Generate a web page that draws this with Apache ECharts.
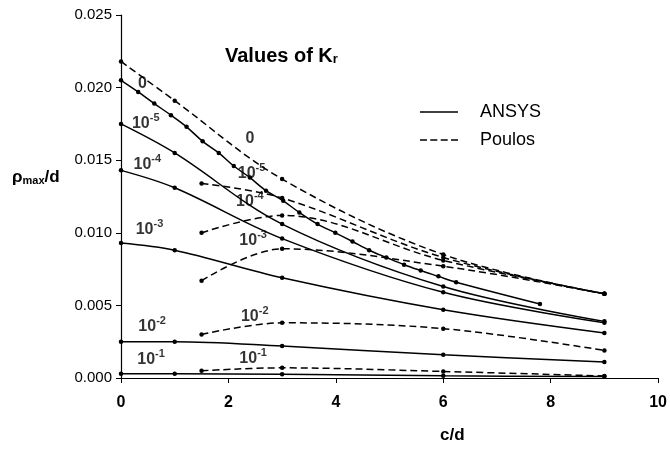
<!DOCTYPE html>
<html>
<head>
<meta charset="utf-8">
<script src="https://cdn.jsdelivr.net/npm/echarts@6/dist/echarts.min.js"></script>
<style>html,body{margin:0;padding:0;background:#fff}#c{width:670px;height:449px}</style>
</head>
<body>
<div id="c"></div>
<script>
// ---- data ----
const xTicks = [0, 2, 4, 6, 8, 10];
const yTicks = [0, 0.005, 0.010, 0.015, 0.020, 0.025];

// ANSYS, Kr = 0 (dense points)
const ansysX0 = [0, 0.32, 0.62, 0.93, 1.22, 1.52, 1.82, 2.1, 2.4, 2.7, 3.02, 3.32, 3.66, 3.99, 4.31, 4.62, 4.94, 5.27, 5.58, 5.91, 6.24, 7.8];
const ansysK0 = [0.0205, 0.0197, 0.0189, 0.0181, 0.0173, 0.0163, 0.0155, 0.0146, 0.0138, 0.0129, 0.0122, 0.0114, 0.0106, 0.0100, 0.0094, 0.0088, 0.0083, 0.0078, 0.0074, 0.0070, 0.0066, 0.0051];
// ANSYS, other Kr
const ansysX = [0, 1, 3, 6, 9];
const ansysK5 = [0.0175, 0.0155, 0.0106, 0.0063, 0.0039];
const ansysK4 = [0.0143, 0.0131, 0.0096, 0.0059, 0.0038];
const ansysK3 = [0.0093, 0.0088, 0.0069, 0.0047, 0.0031];
const ansysK2 = [0.0025, 0.0025, 0.0022, 0.0016, 0.0011];
const ansysK1 = [0.0003, 0.0003, 0.00025, 0.00015, 0.0001];

// Poulos
const poulosX0 = [0, 1, 3, 6, 9];
const poulosK0 = [0.0218, 0.0191, 0.0137, 0.0085, 0.0058];
const poulosX = [1.5, 3, 6, 9];
const poulosK5 = [0.0134, 0.0124, 0.0083, 0.0058];
const poulosK4 = [0.0100, 0.0112, 0.0081, 0.0058];
const poulosK3 = [0.0067, 0.0089, 0.0077, 0.0058];
const poulosK2 = [0.0030, 0.0038, 0.0034, 0.0019];
const poulosK1 = [0.0005, 0.0007, 0.00045, 0.00014];

// curve labels (exponent of Kr; '' means Kr = 0)
const labelExp = ['', '-5', '-4', '-3', '-2', '-1'];
const leftLabelX = [0.40, 0.46, 0.49, 0.53, 0.58, 0.56];
const leftLabelY = [0.0204, 0.0176, 0.0148, 0.0103, 0.00365, 0.00135];
const rightLabelX = [2.40, 2.43, 2.40, 2.46, 2.49, 2.46];
const rightLabelY = [0.0166, 0.0142, 0.01224, 0.0096, 0.00433, 0.00147];

// ---- chart ----
const FONT = '"Liberation Sans", Arial, sans-serif';
const zip = (xs, ys) => xs.map((x, i) => [x, ys[i]]);

function lineSeries(name, xs, ys, dashed) {
  return {
    name: name, type: 'line', data: zip(xs, ys),
    smooth: 0.35, symbol: 'circle', symbolSize: 4.5,
    itemStyle: { color: '#000' },
    lineStyle: { color: '#000', width: 1.5, type: dashed ? [7, 4] : 'solid' },
    silent: true, z: 3
  };
}

const labelRich = {
  b: { fontFamily: FONT, fontSize: 16, fontWeight: 'bold', color: '#000', lineHeight: 19, verticalAlign: 'bottom' },
  s: { fontFamily: FONT, fontSize: 11, fontWeight: 'bold', color: '#000', lineHeight: 11, verticalAlign: 'top' }
};
function labelData(xs, ys) {
  return xs.map((x, i) => ({ value: [x, ys[i]], exp: labelExp[i] }));
}
const labelSeries = (xs, ys) => ({
  type: 'scatter', data: labelData(xs, ys), symbolSize: 0, silent: true, z: 5,
  label: {
    show: true, position: 'inside',
    formatter: p => p.data.exp ? '{b|10}{s|' + p.data.exp + '}' : '{b|0}',
    rich: labelRich
  }
});

const ICON_SOLID = 'path://M0,0H38V1.6H0Z';
const ICON_DASH = 'path://M0,0H7V1.6H0Z M10.3,0H17.3V1.6H10.3Z M20.7,0H27.7V1.6H20.7Z M31,0H38V1.6H31Z';

const chart = echarts.init(document.getElementById('c'));
chart.setOption({
  animation: false,
  backgroundColor: '#fff',
  grid: { left: 121, right: 7, top: 15, bottom: 71 },
  xAxis: {
    type: 'value', min: 0, max: 10, interval: 2,
    axisLine: { lineStyle: { color: '#000', width: 1.2 } },
    axisTick: { show: true, length: 5, lineStyle: { color: '#000' } },
    splitLine: { show: false },
    axisLabel: { color: '#000', fontFamily: FONT, fontSize: 16, fontWeight: 'bold', margin: 17 }
  },
  yAxis: {
    type: 'value', min: 0, max: 0.025, interval: 0.005,
    axisLine: { show: true, lineStyle: { color: '#000', width: 1.2 } },
    axisTick: { show: true, length: 5, lineStyle: { color: '#000' } },
    splitLine: { show: false },
    axisLabel: { color: '#000', fontFamily: FONT, fontSize: 15, margin: 9, formatter: v => v.toFixed(3) }
  },
  legend: {
    data: [{ name: 'ANSYS', icon: ICON_SOLID }, { name: 'Poulos', icon: ICON_DASH }],
    orient: 'vertical', left: 415, top: 98,
    itemWidth: 38, itemHeight: 1.6, itemGap: 10,
    textStyle: { color: '#000', fontFamily: FONT, fontSize: 18, padding: [0, 0, 0, 17] }
  },
  graphic: [
    { type: 'text', left: 225, top: 46, silent: true,
      style: { text: '{a|Values of K}{r|r}', rich: {
        a: { fontFamily: FONT, fontSize: 20, fontWeight: 'bold', fill: '#000', lineHeight: 24, verticalAlign: 'bottom' },
        r: { fontFamily: FONT, fontSize: 13, fontWeight: 'bold', fill: '#000', lineHeight: 13, verticalAlign: 'bottom' } } } },
    { type: 'text', left: 12, top: 169, silent: true,
      style: { text: '{a|ρ}{m|max}{a|/d}', rich: {
        a: { fontFamily: FONT, fontSize: 17, fontWeight: 'bold', fill: '#000', lineHeight: 22, verticalAlign: 'bottom' },
        m: { fontFamily: FONT, fontSize: 11, fontWeight: 'bold', fill: '#000', lineHeight: 15, verticalAlign: 'bottom' } } } },
    { type: 'text', left: 440, top: 427, silent: true,
      style: { text: 'c/d', fontFamily: FONT, fontSize: 17, fontWeight: 'bold', fill: '#000' } }
  ],
  series: [
    { name: 'ANSYS', type: 'line', data: [], symbol: 'none', lineStyle: { color: '#000', width: 1.5, type: 'solid' }, itemStyle: { color: '#000' } },
    { name: 'Poulos', type: 'line', data: [], symbol: 'none', lineStyle: { color: '#000', width: 1.5, type: [5, 4] }, itemStyle: { color: '#000' } },
    lineSeries('ANSYS Kr=0', ansysX0, ansysK0, false),
    lineSeries('ANSYS Kr=1e-5', ansysX, ansysK5, false),
    lineSeries('ANSYS Kr=1e-4', ansysX, ansysK4, false),
    lineSeries('ANSYS Kr=1e-3', ansysX, ansysK3, false),
    lineSeries('ANSYS Kr=1e-2', ansysX, ansysK2, false),
    lineSeries('ANSYS Kr=1e-1', ansysX, ansysK1, false),
    lineSeries('Poulos Kr=0', poulosX0, poulosK0, true),
    lineSeries('Poulos Kr=1e-5', poulosX, poulosK5, true),
    lineSeries('Poulos Kr=1e-4', poulosX, poulosK4, true),
    lineSeries('Poulos Kr=1e-3', poulosX, poulosK3, true),
    lineSeries('Poulos Kr=1e-2', poulosX, poulosK2, true),
    lineSeries('Poulos Kr=1e-1', poulosX, poulosK1, true),
    labelSeries(leftLabelX, leftLabelY),
    labelSeries(rightLabelX, rightLabelY)
  ]
});
</script>
</body>
</html>
